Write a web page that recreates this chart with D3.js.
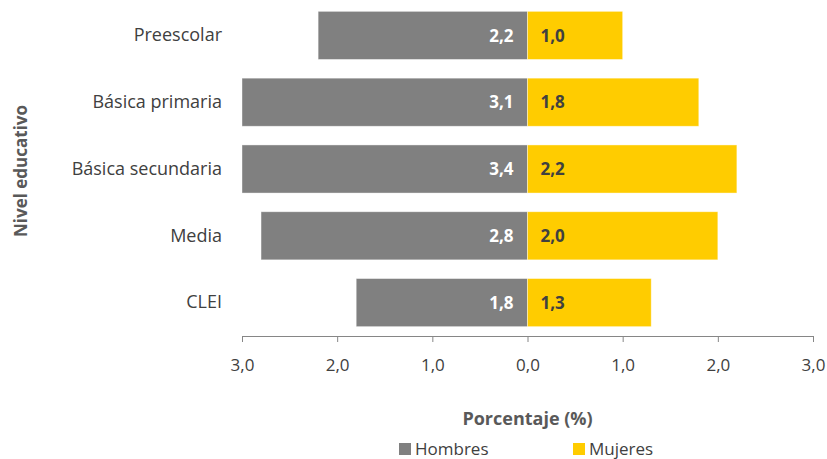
<!DOCTYPE html>
<html>
<head>
<meta charset="utf-8">
<script src="https://cdn.jsdelivr.net/npm/d3@7"></script>
<style>
  body { margin: 0; background: #fff; }
  svg text { font-family: 'Open Sans', 'Noto Sans', sans-serif; }
</style>
</head>
<body>
<div id="chart"></div>
<script>
const categories = ['Preescolar', 'Básica primaria', 'Básica secundaria', 'Media', 'CLEI'];
const hombres = [2.2, 3.1, 3.4, 2.8, 1.8];
const mujeres = [1.0, 1.8, 2.2, 2.0, 1.3];
const tickValues = [-3, -2, -1, 0, 1, 2, 3];
const seriesNames = ['Hombres', 'Mujeres'];

const width = 827, height = 459;
const colorH = '#808080', colorM = '#ffcc00';
const textColor = '#404040';
const fmt = v => d3.format('.1f')(Math.abs(v)).replace('.', ',');

const svg = d3.select('#chart').append('svg')
  .attr('width', width)
  .attr('height', height);

// scales: axis is capped at ±3, bars beyond that get clipped like the original
const x = d3.scaleLinear().domain([-3, 3]).range([242, 813]).clamp(true);
const y = d3.scaleBand()
  .domain(categories)
  .range([2, 336])
  .paddingInner(0.28)
  .paddingOuter(0.14);

const rows = categories.map((c, i) => ({ cat: c, h: hombres[i], m: mujeres[i] }));

// bars
const bars = svg.append('g').attr('class', 'bars');
bars.selectAll('rect.h')
  .data(rows)
  .join('rect')
  .attr('class', 'h')
  .attr('x', d => x(-d.h))
  .attr('y', d => y(d.cat))
  .attr('width', d => x(0) - x(-d.h))
  .attr('height', y.bandwidth())
  .attr('fill', colorH)
  .attr('stroke', '#fff')
  .attr('stroke-opacity', 0.5)
  .attr('stroke-width', 0.8);
bars.selectAll('rect.m')
  .data(rows)
  .join('rect')
  .attr('class', 'm')
  .attr('x', x(0))
  .attr('y', d => y(d.cat))
  .attr('width', d => x(d.m) - x(0))
  .attr('height', y.bandwidth())
  .attr('fill', colorM)
  .attr('stroke', '#fff')
  .attr('stroke-opacity', 0.5)
  .attr('stroke-width', 0.8);

// value labels
bars.selectAll('text.h')
  .data(rows)
  .join('text')
  .attr('class', 'h')
  .attr('x', x(0) - 14)
  .attr('y', d => y(d.cat) + y.bandwidth() / 2)
  .attr('dy', '0.36em')
  .attr('text-anchor', 'end')
  .attr('font-size', 17)
  .attr('font-weight', 'bold')
  .attr('fill', '#fff')
  .text(d => fmt(d.h));
bars.selectAll('text.m')
  .data(rows)
  .join('text')
  .attr('class', 'm')
  .attr('x', x(0) + 13)
  .attr('y', d => y(d.cat) + y.bandwidth() / 2)
  .attr('dy', '0.36em')
  .attr('text-anchor', 'start')
  .attr('font-size', 17)
  .attr('font-weight', 'bold')
  .attr('fill', textColor)
  .text(d => fmt(d.m));

// x axis
const xAxis = svg.append('g')
  .attr('transform', 'translate(0,336)')
  .call(d3.axisBottom(x).tickValues(tickValues).tickSize(6).tickPadding(17).tickFormat(fmt));
xAxis.select('.domain').attr('stroke', '#868686');
xAxis.selectAll('.tick line').attr('stroke', '#868686');
xAxis.selectAll('text')
  .attr('font-size', 17)
  .attr('fill', textColor);

// y axis labels (no line)
const yAxis = svg.append('g')
  .attr('transform', 'translate(230,0)')
  .call(d3.axisLeft(y).tickSize(0).tickPadding(8));
yAxis.select('.domain').remove();
yAxis.selectAll('text')
  .attr('font-size', 18)
  .attr('dy', '0.32em')
  .attr('fill', textColor);

// axis titles
svg.append('text')
  .attr('x', x(0))
  .attr('y', 425)
  .attr('text-anchor', 'middle')
  .attr('font-size', 18)
  .attr('font-weight', 'bold')
  .attr('fill', '#595959')
  .text('Porcentaje (%)');
svg.append('text')
  .attr('transform', 'translate(27,171) rotate(-90)')
  .attr('text-anchor', 'middle')
  .attr('font-size', 17)
  .attr('font-weight', 'bold')
  .attr('fill', '#595959')
  .text('Nivel educativo');

// legend
const legend = svg.append('g').attr('class', 'legend');
const legendX = [399, 573];
seriesNames.forEach((name, i) => {
  legend.append('rect')
    .attr('x', legendX[i])
    .attr('y', 443)
    .attr('width', 12)
    .attr('height', 12)
    .attr('fill', i === 0 ? colorH : colorM);
  legend.append('text')
    .attr('x', legendX[i] + 16)
    .attr('y', 455)
    .attr('font-size', 17)
    .attr('fill', textColor)
    .text(name);
});
</script>
</body>
</html>
